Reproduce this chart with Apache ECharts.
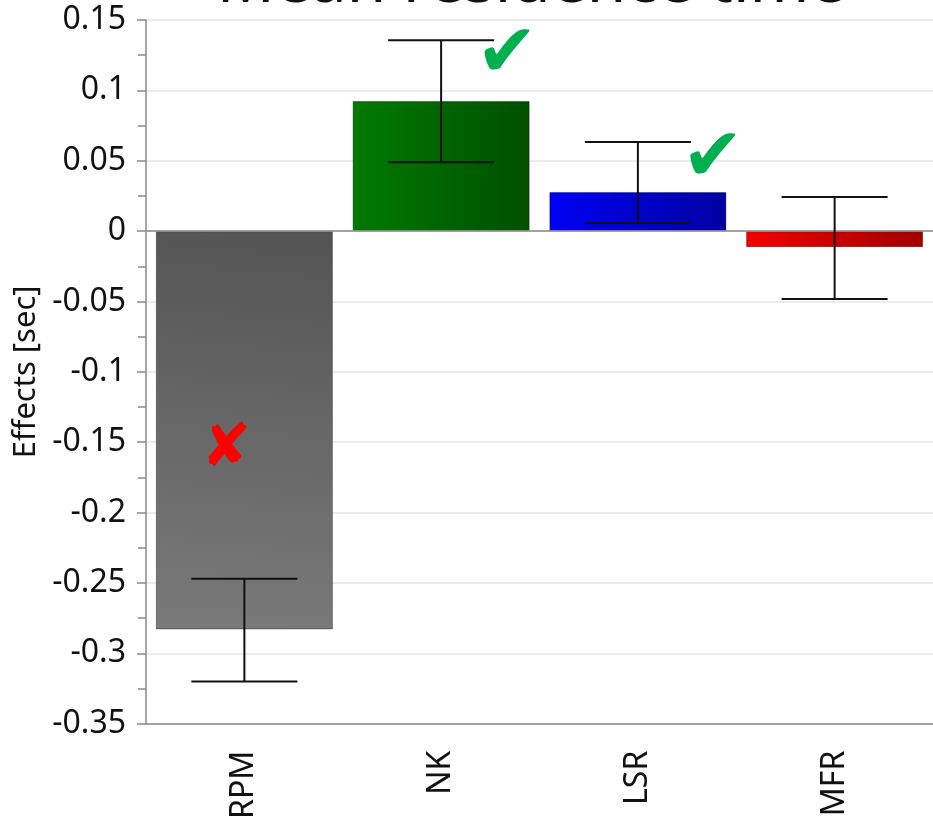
<!DOCTYPE html>
<html>
<head>
<meta charset="utf-8">
<script src="https://cdn.jsdelivr.net/npm/echarts@6/dist/echarts.min.js"></script>
<style>
  html, body { margin: 0; padding: 0; background: #fff; }
  #chart { width: 933px; height: 822px; }
</style>
</head>
<body>
<div id="chart"></div>
<script>
// data
const categories = ['RPM', 'NK', 'LSR', 'MFR'];
const effects = [-0.283, 0.0925, 0.0278, -0.0114];
const errLow = [-0.320, 0.049, 0.0057, -0.0483];
const errHigh = [-0.247, 0.1357, 0.0633, 0.0242];
const barColors = [
  ['#555555', '#7a7a7a'],
  ['#007a00', '#004f00'],
  ['#0000f4', '#0000a2'],
  ['#f20000', '#a00000'],
];
// annotations: [category, value, pixel x offset, glyph, colour, size]
const marks = [
  ['NK', 0.124, 66, '✔', '#00b050', 74],
  ['LSR', 0.0497, 75, '✔', '#00b050', 74],
  ['RPM', -0.156, -18, '✘', '#ff0000', 60],
];

const chart = echarts.init(document.getElementById('chart'));
const font = '"Noto Sans", "Open Sans", sans-serif';

const option = {
  animation: false,
  textStyle: { fontFamily: font },
  graphic: [{
    type: 'text',
    x: 531,
    y: -16,
    style: {
      text: 'Mean residence time',
      align: 'center',
      verticalAlign: 'middle',
      font: '64px ' + font,
      fill: '#111',
    },
  }],
  grid: { left: 146, top: 20, bottom: 98, width: 791 },
  xAxis: [{
    type: 'category',
    data: categories,
    position: 'bottom',
    axisLine: { onZero: false, lineStyle: { color: '#8a8a8a', width: 1.5 } },
    axisTick: { alignWithLabel: true, length: 9, lineStyle: { color: '#8a8a8a', width: 1.5 } },
    axisLabel: { rotate: 90, margin: 27, fontSize: 32, color: '#111', fontFamily: font },
  }, {
    type: 'category',
    data: categories,
    position: 'top',
    axisLine: { show: true, lineStyle: { color: '#a8a8a8', width: 1.5 } },
    axisTick: { show: false },
    axisLabel: { show: false },
  }],
  yAxis: {
    type: 'value',
    min: -0.35,
    max: 0.15,
    interval: 0.05,
    name: 'Effects [sec]',
    nameLocation: 'middle',
    nameGap: 100,
    nameTextStyle: { fontSize: 31, color: '#111', fontFamily: font },
    axisLine: { show: true, lineStyle: { color: '#8a8a8a', width: 1.5 } },
    axisTick: { show: true, length: 9, lineStyle: { color: '#8a8a8a', width: 1.5 } },
    minorTick: { show: true, splitNumber: 2, length: 8, lineStyle: { color: '#8a8a8a', width: 1.5 } },
    axisLabel: { margin: 20, fontSize: 32, color: '#111', fontFamily: font },
    splitLine: { lineStyle: { color: '#e6e6e6', width: 1.5 } },
  },
  series: [{
    type: 'bar',
    barCategoryGap: '10%',
    data: effects.map((v, i) => ({
      value: v,
      itemStyle: {
        color: new echarts.graphic.LinearGradient(i === 0 ? 0.2 : 0, 0, i === 0 ? 0 : 1, i === 0 ? 1 : 0, [
          { offset: 0, color: barColors[i][0] },
          { offset: 1, color: barColors[i][1] },
        ]),
      },
    })),
    itemStyle: { borderColor: 'rgba(0,0,0,0.35)', borderWidth: 1 },
    markLine: {
      silent: true,
      symbol: 'none',
      label: { show: false },
      lineStyle: { color: '#9a9a9a', width: 1.5, type: 'solid' },
      data: [{ yAxis: 0 }],
    },
    markPoint: {
      silent: true,
      symbol: 'circle',
      symbolSize: 1,
      itemStyle: { color: 'rgba(0,0,0,0)' },
      data: marks.map(m => ({
        coord: [m[0], m[1]],
        label: {
          show: true,
          position: 'inside',
          offset: [m[2], 0],
          formatter: m[3],
          color: m[4],
          fontSize: m[5],
          fontFamily: 'DejaVu Sans',
        },
      })),
    },
  }, {
    type: 'custom',
    data: categories.map((c, i) => [i, errLow[i], errHigh[i]]),
    z: 10,
    renderItem: (params, api) => {
      const lo = api.coord([api.value(0), api.value(1)]);
      const hi = api.coord([api.value(0), api.value(2)]);
      const half = 53;
      const style = { stroke: '#111', lineWidth: 2 };
      return {
        type: 'group',
        children: [
          { type: 'line', shape: { x1: lo[0], y1: lo[1], x2: hi[0], y2: hi[1] }, style },
          { type: 'line', shape: { x1: lo[0] - half, y1: lo[1], x2: lo[0] + half, y2: lo[1] }, style },
          { type: 'line', shape: { x1: hi[0] - half, y1: hi[1], x2: hi[0] + half, y2: hi[1] }, style },
        ],
      };
    },
  }],
};

chart.setOption(option);
</script>
</body>
</html>
